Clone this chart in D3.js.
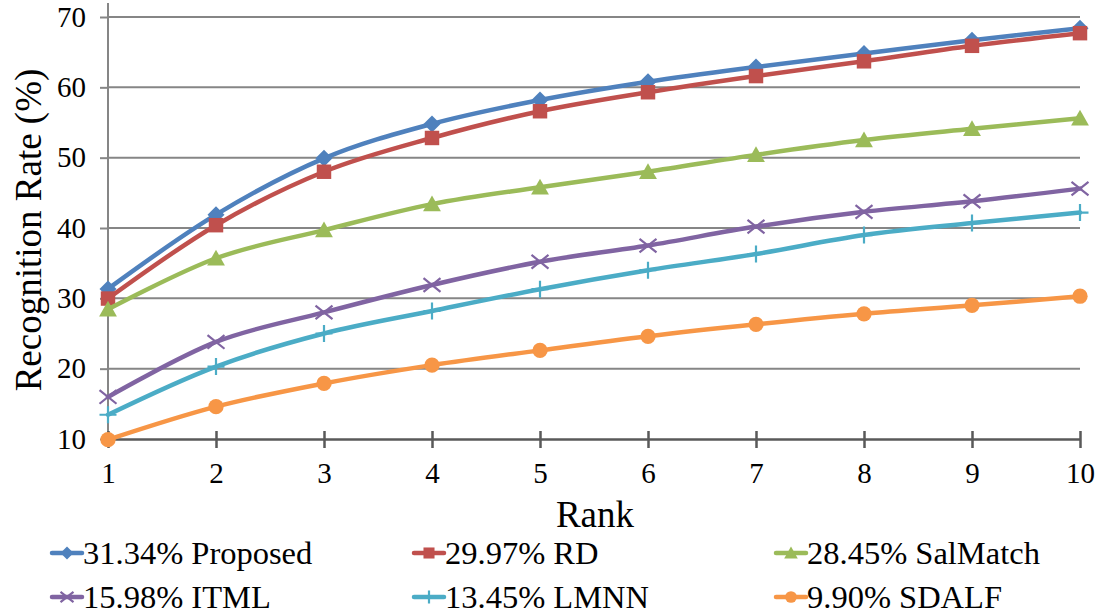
<!DOCTYPE html>
<html>
<head>
<meta charset="utf-8">
<script src="https://cdn.jsdelivr.net/npm/d3@7"></script>
<style>
  html, body { margin: 0; padding: 0; background: #fff; }
  svg { display: block; font-family: "Liberation Serif", "Times New Roman", serif; }
</style>
</head>
<body>
<svg id="chart" width="1108" height="615"></svg>
<script>
// Cumulative recognition rate per rank for each method
const ranks = [1, 2, 3, 4, 5, 6, 7, 8, 9, 10];
const proposed = [31.34, 41.9, 49.9, 54.8, 58.2, 60.8, 62.9, 64.8, 66.7, 68.4];
const rd       = [29.97, 40.4, 48.0, 52.8, 56.6, 59.3, 61.6, 63.7, 65.9, 67.7];
const salmatch = [28.45, 35.7, 39.7, 43.4, 45.8, 48.0, 50.4, 52.5, 54.1, 55.6];
const itml     = [15.98, 23.8, 28.0, 31.9, 35.2, 37.5, 40.2, 42.3, 43.8, 45.6];
const lmnn     = [13.45, 20.3, 25.0, 28.2, 31.3, 34.0, 36.3, 39.0, 40.7, 42.2];
const sdalf    = [9.90, 14.6, 17.9, 20.5, 22.6, 24.6, 26.3, 27.8, 29.0, 30.3];

const seriesNames = ["31.34% Proposed", "29.97% RD", "28.45% SalMatch",
                     "15.98% ITML", "13.45% LMNN", "9.90% SDALF"];
const yTicks = [10, 20, 30, 40, 50, 60, 70];

const colors = ["#4F81BD", "#C0504D", "#9BBB59", "#8064A2", "#4BACC6", "#F79646"];
const shapes = ["diamond", "square", "triangle", "x", "plus", "circle"];
const values = [proposed, rd, salmatch, itml, lmnn, sdalf];

const series = seriesNames.map((name, i) => ({
  name, color: colors[i], shape: shapes[i],
  points: ranks.map((r, j) => ({ r, v: values[i][j] }))
}));

const serif = "Liberation Serif, Times New Roman, serif";
const svg = d3.select("#chart");
const plotLeft = 108, plotRight = 1080, plotTop = 17, plotBottom = 439;

const x = d3.scaleLinear().domain([1, 10]).range([plotLeft, plotRight]);
const y = d3.scaleLinear().domain([10, 70]).range([plotBottom, plotTop]);

const gridColor = "#868686";
const axisColor = "#595959";

// horizontal gridlines
svg.append("g")
  .selectAll("line")
  .data(yTicks.filter(t => t > 10))
  .join("line")
  .attr("x1", plotLeft).attr("x2", plotRight)
  .attr("y1", d => y(d)).attr("y2", d => y(d))
  .attr("stroke", gridColor).attr("stroke-width", 2);

// y axis
const yAxis = svg.append("g")
  .attr("transform", `translate(${plotLeft},0)`)
  .call(d3.axisLeft(y).tickValues(yTicks).tickSize(8).tickPadding(14).tickFormat(d3.format("d")));
yAxis.select(".domain").remove();
yAxis.selectAll(".tick line").attr("stroke", gridColor).attr("stroke-width", 2);
yAxis.selectAll(".tick text")
  .attr("font-size", 29).attr("fill", "#000")
  .attr("font-family", serif);
svg.append("line")
  .attr("x1", plotLeft).attr("x2", plotLeft)
  .attr("y1", 3).attr("y2", plotBottom)
  .attr("stroke", gridColor).attr("stroke-width", 2);

// x axis with crossing ticks
const xAxis = svg.append("g")
  .attr("transform", `translate(0,${plotBottom})`)
  .call(d3.axisBottom(x).tickValues(ranks).tickSize(0).tickPadding(0).tickFormat(d3.format("d")));
xAxis.select(".domain").attr("stroke", axisColor).attr("stroke-width", 2.5);
xAxis.selectAll(".tick line")
  .attr("y1", -8).attr("y2", 9)
  .attr("stroke", axisColor).attr("stroke-width", 2.5);
xAxis.selectAll(".tick text")
  .attr("y", 34).attr("dy", "0.35em")
  .attr("font-size", 29).attr("fill", "#000")
  .attr("font-family", serif);

// axis titles
svg.append("text")
  .attr("x", 595).attr("y", 527)
  .attr("text-anchor", "middle")
  .attr("font-size", 37)
  .attr("font-family", serif)
  .text("Rank");
svg.append("text")
  .attr("transform", "translate(41,230) rotate(-90)")
  .attr("text-anchor", "middle")
  .attr("font-size", 37)
  .attr("font-family", serif)
  .text("Recognition Rate (%)");

// marker drawing
function drawMarker(g, shape, color, s) {
  switch (shape) {
    case "diamond":
      g.append("path").attr("d", `M0,${-s}L${s},0L0,${s}L${-s},0Z`).attr("fill", color);
      break;
    case "square":
      g.append("rect").attr("x", -s * 0.85).attr("y", -s * 0.85)
        .attr("width", s * 1.7).attr("height", s * 1.7).attr("fill", color);
      break;
    case "triangle":
      g.append("path").attr("d", `M0,${-s}L${s * 1.05},${s * 0.85}L${-s * 1.05},${s * 0.85}Z`).attr("fill", color);
      break;
    case "x":
      g.append("path").attr("d", `M${-s},${-s * 0.8}L${s},${s * 0.8}M${-s},${s * 0.8}L${s},${-s * 0.8}`)
        .attr("stroke", color).attr("stroke-width", 2.2).attr("fill", "none");
      break;
    case "plus":
      g.append("path").attr("d", `M${-s},0L${s},0M0,${-s}L0,${s}`)
        .attr("stroke", color).attr("stroke-width", 2.2).attr("fill", "none");
      break;
    case "circle":
      g.append("circle").attr("r", s * 0.9).attr("fill", color);
      break;
  }
}

const line = d3.line()
  .x(d => x(d.r)).y(d => y(d.v))
  .curve(d3.curveCatmullRom.alpha(0));

const plot = svg.append("g");
series.forEach(s => {
  const g = plot.append("g");
  g.append("path")
    .datum(s.points)
    .attr("d", line)
    .attr("fill", "none")
    .attr("stroke", s.color)
    .attr("stroke-width", 4.5)
    .attr("stroke-linejoin", "round")
    .attr("stroke-linecap", "round");
  g.selectAll("g.m")
    .data(s.points)
    .join("g")
    .attr("class", "m")
    .attr("transform", d => `translate(${x(d.r)},${y(d.v)})`)
    .each(function () { drawMarker(d3.select(this), s.shape, s.color, 8.5); });
});

// legend: three columns, two rows
const legX = [52, 414, 776];
const legY = [553, 597];
series.forEach((s, i) => {
  const gx = legX[i % 3], gy = legY[Math.floor(i / 3)];
  const g = svg.append("g").attr("transform", `translate(${gx},${gy})`);
  g.append("line").attr("x1", 0).attr("x2", 30).attr("y1", 0).attr("y2", 0)
    .attr("stroke", s.color).attr("stroke-width", 4.5).attr("stroke-linecap", "round");
  const m = g.append("g").attr("transform", "translate(15,0)");
  drawMarker(m, s.shape, s.color, 6.5);
  g.append("text")
    .attr("x", 31).attr("y", 0).attr("dy", "0.35em")
    .attr("font-size", 32.5)
    .attr("font-family", serif)
    .text(s.name);
});
</script>
</body>
</html>
